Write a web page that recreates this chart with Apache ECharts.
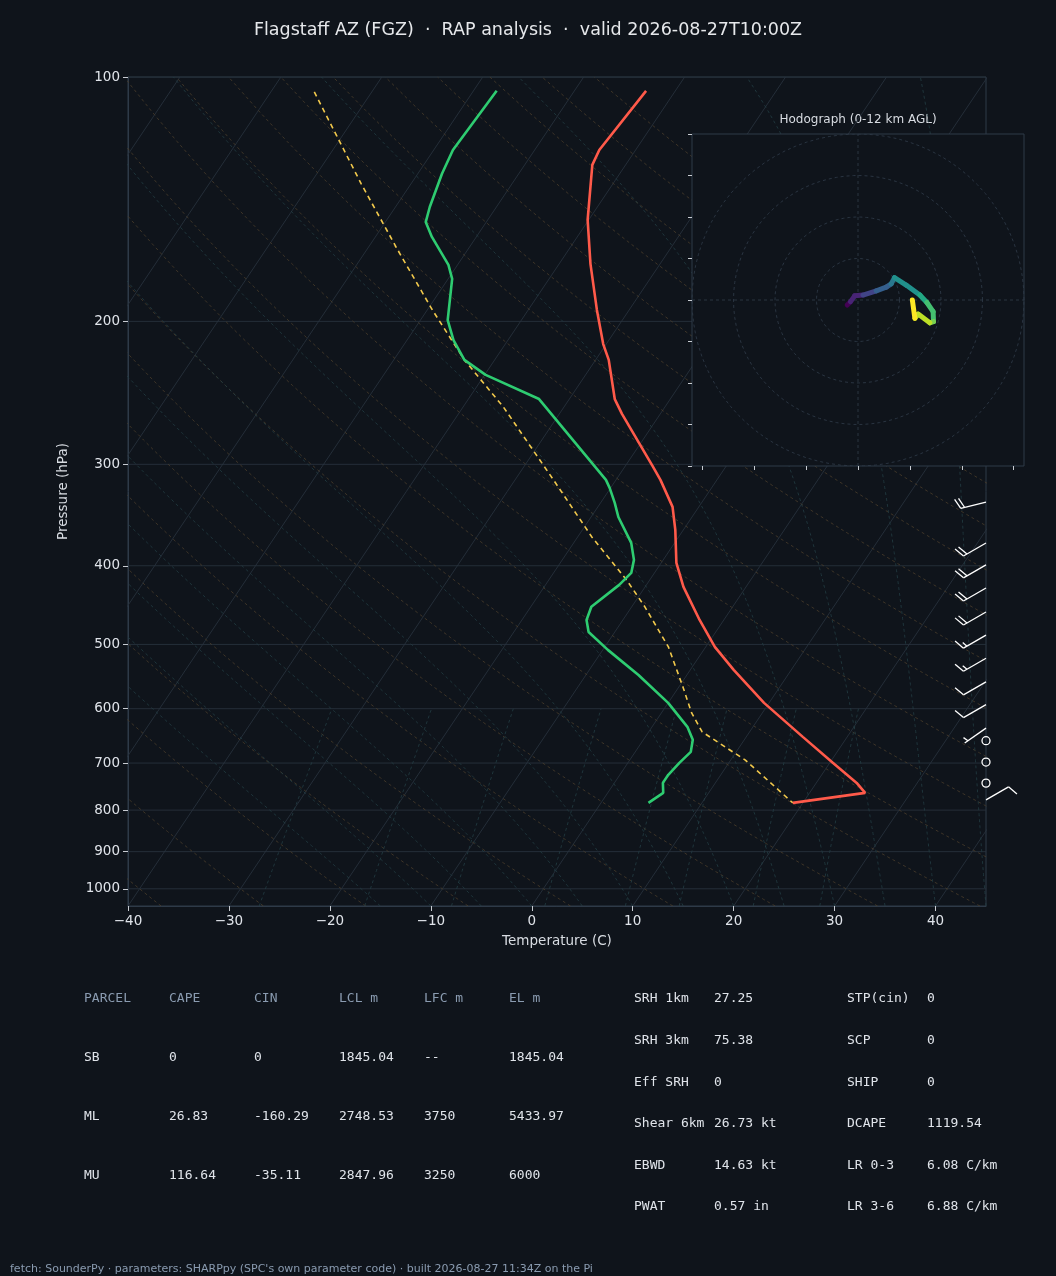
<!DOCTYPE html>
<html>
<head>
<meta charset="utf-8">
<script src="https://cdn.jsdelivr.net/npm/echarts@6/dist/echarts.min.js"></script>
<style>
  html, body { margin: 0; padding: 0; background: #0f141b; }
  #skewt { width: 1056px; height: 1276px; }
</style>
</head>
<body>
<div id="skewt"></div>
<script>
// sounding (pressure hPa, temperature C)
const tempPres = [104.0, 123.0, 128.3, 150.0, 169.9, 193.6, 213.3, 223.1, 249.3, 260.0, 302.1, 313.5, 338.5, 361.3, 396.7, 424.7, 466.5, 503.5, 537.5, 590.2, 649.9, 699.6, 740.5, 761.8, 783.7];
const tempVals = [-42.9, -43.6, -43.3, -40.1, -36.9, -33.2, -30.3, -28.7, -25.5, -23.8, -17.2, -15.6, -12.6, -10.8, -8.5, -6.2, -2.4, 0.9, 4.3, 9.5, 15.6, 20.3, 24.0, 25.5, 19.0];

const dewPres = [104.0, 123.0, 131.6, 144.6, 150.9, 157.4, 170.4, 177.3, 199.3, 210.9, 223.1, 232.8, 249.3, 313.5, 320.7, 334.6, 348.3, 374.9, 393.4, 408.2, 422.3, 449.4, 466.5, 482.6, 507.8, 545.2, 590.2, 631.7, 655.4, 678.1, 699.6, 723.8, 740.5, 761.8, 783.7];
const dewVals = [-57.7, -58.1, -57.6, -56.6, -56.0, -54.4, -50.9, -49.6, -47.3, -45.4, -43.0, -39.9, -33.0, -21.0, -20.1, -18.6, -17.3, -14.3, -12.9, -12.3, -12.7, -14.0, -13.6, -12.6, -9.5, -4.8, 0.0, 3.5, 4.9, 5.5, 5.1, 4.8, 4.8, 5.5, 4.7];

const parcelPres = [104.3, 113.0, 135.5, 163.4, 193.6, 223.1, 255.0, 313.5, 368.6, 416.4, 449.4, 503.5, 564.0, 607.3, 640.8, 693.6, 783.7];
const parcelVals = [-75.7, -72.4, -64.9, -56.9, -49.5, -43.0, -36.0, -26.2, -18.6, -12.3, -8.7, -3.7, 0.4, 3.0, 5.3, 11.4, 19.0];

// wind barbs
const barbPres = [334, 375, 399, 426, 456, 487, 520, 556, 593, 634, 657, 698, 741, 777];
const barbDir = [256, 240, 240, 240, 240, 240, 240, 240, 240, 235, 0, 0, 0, 60];
const barbSpd = [20, 20, 20, 20, 20, 15, 15, 10, 10, 5, 0, 0, 0, 10];

// hodograph (u, v in kt)
const hodoU = [-2.6, -1.8, -0.8, 1.2, 4.4, 6.8, 8.0, 8.8, 11.6, 14.9, 16.6, 18.1, 18.2, 17.3, 14.5, 13.7, 13.1];
const hodoV = [-1.2, -0.4, 1.0, 1.2, 2.2, 3.1, 3.9, 5.4, 3.6, 1.2, -0.6, -2.8, -5.2, -5.5, -3.4, -4.4, 0.0];

const presTicks = [100, 200, 300, 400, 500, 600, 700, 800, 900, 1000];

// tables
const parcelHead = ['PARCEL', 'CAPE', 'CIN', 'LCL m', 'LFC m', 'EL m'];
const parcelRows = [
  ['SB', '0', '0', '1845.04', '--', '1845.04'],
  ['ML', '26.83', '-160.29', '2748.53', '3750', '5433.97'],
  ['MU', '116.64', '-35.11', '2847.96', '3250', '6000']
];
const kinLabels = ['SRH 1km', 'SRH 3km', 'Eff SRH', 'Shear 6km', 'EBWD', 'PWAT'];
const kinValues = ['27.25', '75.38', '0', '26.73 kt', '14.63 kt', '0.57 in'];
const idxLabels = ['STP(cin)', 'SCP', 'SHIP', 'DCAPE', 'LR 0-3', 'LR 3-6'];
const idxValues = ['0', '0', '0', '1119.54', '6.08 C/km', '6.88 C/km'];

const SKEW = 54, PREF = 1050;
const skewX = (t, p) => t + SKEW * Math.log10(PREF / p);
const toXY = (pres, vals) => pres.map((p, i) => [skewX(vals[i], p), p]);

const chart = echarts.init(document.getElementById('skewt'));
const series = [];
const bgLine = (data, color, dashed, w) => series.push({
  type: 'line', data, showSymbol: false, silent: true, xAxisIndex: 0, yAxisIndex: 0,
  lineStyle: { color, width: w || 0.8, type: dashed ? [3, 3] : 'solid' }, z: 1
});

// pressure levels for background curves
const levels = [];
for (let p = 1050; p >= 100; p -= 10) levels.push(p);

// isotherms
for (let t = -130; t <= 50; t += 10) bgLine([[skewX(t, 1050), 1050], [skewX(t, 100), 100]], '#27313c', false, 0.9);
// isobars
presTicks.forEach(p => bgLine([[-40, p], [45, p]], '#27313c', false, 0.9));
// dry adiabats
for (let t0 = -40; t0 <= 160; t0 += 10) {
  const th = t0 + 273.15;
  bgLine(levels.map(p => [skewX(th * Math.pow(p / 1000, 0.286) - 273.15, p), p]), '#4a3d2c', true);
}
// moist adiabats
const satMix = (t, p) => { const es = 6.112 * Math.exp(17.67 * t / (t + 243.5)); return 0.622 * es / (p - es); };
for (let t0 = -15; t0 <= 45; t0 += 5) {
  let t = t0, pts = [];
  for (let p = 1050; p >= 100; p -= 5) {
    pts.push([skewX(t, p), p]);
    const T = t + 273.15, rs = satMix(t, p);
    const dTdp = (287 * T + 2.5e6 * rs) / (p * (1005 + 2.5e6 * 2.5e6 * rs * 0.622 / (287 * T * T)));
    t -= dTdp * 5;
  }
  bgLine(pts, '#233e44', true);
}
// mixing ratio lines (g/kg)
[0.4, 1, 2, 4, 7, 10, 16, 24].forEach(w => {
  const pts = [];
  for (let p = 1050; p >= 600; p -= 25) {
    const e = p * (w / 1000) / (0.622 + w / 1000);
    const l = Math.log(e / 6.112);
    pts.push([skewX(243.5 * l / (17.67 - l), p), p]);
  }
  bgLine(pts, '#233e44', true);
});

series.push(
  { type: 'line', name: 'Parcel', data: toXY(parcelPres, parcelVals), showSymbol: false, z: 4,
    lineStyle: { color: '#f2c94c', width: 1.6, type: [5, 4] } },
  { type: 'line', name: 'Dewpoint', data: toXY(dewPres, dewVals), showSymbol: false, z: 5,
    lineStyle: { color: '#2ecc71', width: 2.6 } },
  { type: 'line', name: 'Temperature', data: toXY(tempPres, tempVals), showSymbol: false, z: 5,
    lineStyle: { color: '#ff5a4a', width: 2.6 } }
);

// wind barbs
series.push({
  type: 'custom', clip: false, z: 6,
  data: barbPres.map((p, i) => [p, barbDir[i], barbSpd[i]]),
  renderItem: (params, api) => {
    const p = api.value(0), d = api.value(1) * Math.PI / 180, spd = api.value(2);
    const b = api.coord([45, p]);
    const st = { stroke: '#ffffff', lineWidth: 1.3, fill: 'none' };
    if (spd < 2.5) return { type: 'circle', shape: { cx: b[0], cy: b[1], r: 4 }, style: st };
    const s = [Math.sin(d), -Math.cos(d)];
    const a = 70 * Math.PI / 180;
    const f = [s[0] * Math.cos(a) - s[1] * Math.sin(a), s[0] * Math.sin(a) + s[1] * Math.cos(a)];
    const L = 26;
    const kids = [{ type: 'line', shape: { x1: b[0], y1: b[1], x2: b[0] + L * s[0], y2: b[1] + L * s[1] }, style: st }];
    let full = Math.floor(spd / 10), half = Math.round((spd % 10) / 5);
    let pos = L;
    if (full === 0) pos -= 4;
    const add = len => {
      const x = b[0] + pos * s[0], y = b[1] + pos * s[1];
      kids.push({ type: 'line', shape: { x1: x, y1: y, x2: x + len * f[0], y2: y + len * f[1] }, style: st });
      pos -= 4;
    };
    for (let i = 0; i < full; i++) add(11);
    if (half) add(5.5);
    return { type: 'group', children: kids };
  }
});

// hodograph rings and cross
const ring = r => { const pts = []; for (let k = 0; k <= 90; k++) { const t = k / 90 * 2 * Math.PI; pts.push([r * Math.cos(t), r * Math.sin(t)]); } return pts; };
const hodoBg = (data) => series.push({ type: 'line', data, showSymbol: false, silent: true, xAxisIndex: 1, yAxisIndex: 1, z: 12,
  lineStyle: { color: '#2c3845', width: 0.9, type: [3, 3] } });
[10, 20, 30, 40].forEach(r => hodoBg(ring(r)));
hodoBg([[-40, 0], [40, 0]]);
hodoBg([[0, -40], [0, 40]]);

// hodograph trace, coloured along height with viridis
const viridis = ['#440154', '#482475', '#414487', '#355f8d', '#2a788e', '#21918c', '#22a884', '#44bf70', '#7ad151', '#bddf26', '#fde725'];
const segs = [];
for (let i = 0; i < hodoU.length - 1; i++) {
  const c = viridis[Math.round(i / (hodoU.length - 2) * (viridis.length - 1))];
  segs.push({ coords: [[hodoU[i], hodoV[i]], [hodoU[i + 1], hodoV[i + 1]]], lineStyle: { color: c } });
}
series.push({ type: 'lines', coordinateSystem: 'cartesian2d', xAxisIndex: 1, yAxisIndex: 1, z: 14,
  lineStyle: { width: 5, opacity: 1, cap: 'round' }, data: segs });

const txt = (x, y, text, color, extra) => Object.assign({
  type: 'text', x, y, silent: true,
  style: Object.assign({ text, fill: color, font: '13px "DejaVu Sans Mono"', verticalAlign: 'middle' }, extra || {})
});
const graphics = [
  { type: 'rect', shape: { x: 692, y: 134, width: 332, height: 332 }, z: 10,
    style: { fill: '#0f141b', stroke: '#2e3a48', lineWidth: 1 } },
  txt(858, 120, 'Hodograph (0-12 km AGL)', '#d8dce2', { font: '12px "DejaVu Sans"', align: 'center' }),
  txt(10, 1269, "fetch: SounderPy \u00b7 parameters: SHARPpy (SPC's own parameter code) \u00b7 built 2026-08-27 11:34Z on the Pi", '#8a9bb0', { font: '11px "DejaVu Sans"' })
];
const colX = [84, 169, 254, 339, 424, 509];
parcelHead.forEach((h, j) => graphics.push(txt(colX[j], 999, h, '#8a9bb0')));
parcelRows.forEach((row, i) => row.forEach((v, j) => graphics.push(txt(colX[j], 1058 + i * 59, v, '#e0e4ea'))));
kinLabels.forEach((l, i) => {
  const y = 999 + i * 41.6;
  graphics.push(txt(634, y, l, '#e0e4ea'), txt(714, y, kinValues[i], '#e0e4ea'),
    txt(847, y, idxLabels[i], '#e0e4ea'), txt(927, y, idxValues[i], '#e0e4ea'));
});

const minus = v => (v < 0 ? '\u2212' + (-v) : String(v));
const option = {
  backgroundColor: '#0f141b',
  animation: false,
  title: {
    text: 'Flagstaff AZ (FGZ)  \u00b7  RAP analysis  \u00b7  valid 2026-08-27T10:00Z',
    left: 'center', top: 16,
    textStyle: { color: '#e6e8eb', fontSize: 17.5, fontWeight: 'normal', fontFamily: 'DejaVu Sans' }
  },
  grid: [
    { left: 128, right: 70, top: 77, bottom: 370, show: true, borderColor: '#2e3a48', borderWidth: 1, backgroundColor: 'transparent' },
    { left: 692, top: 134, width: 332, height: 332 }
  ],
  xAxis: [
    { type: 'value', gridIndex: 0, min: -40, max: 45, interval: 10,
      name: 'Temperature (C)', nameLocation: 'middle', nameGap: 28,
      nameTextStyle: { color: '#d8dce2', fontSize: 13.5, fontFamily: 'DejaVu Sans' },
      axisLine: { onZero: false, lineStyle: { color: '#2e3a48' } },
      axisTick: { show: true, length: 5, lineStyle: { color: '#c8ccd2' } },
      axisLabel: { color: '#e0e4ea', fontSize: 13.5, fontFamily: 'DejaVu Sans', formatter: minus, showMaxLabel: false },
      splitLine: { show: false } },
    { type: 'value', gridIndex: 1, min: -40, max: 40, z: 20,
      axisLine: { show: false, onZero: false },
      axisTick: { show: true, length: 4, lineStyle: { color: '#c8ccd2' }, customValues: [-37.5, -25, -12.5, 0, 12.5, 25, 37.5] },
      axisLabel: { show: false, customValues: [] }, splitLine: { show: false } }
  ],
  yAxis: [
    { type: 'log', gridIndex: 0, min: 100, max: 1050, inverse: true, logBase: 10,
      name: 'Pressure (hPa)', nameLocation: 'middle', nameGap: 58,
      nameTextStyle: { color: '#d8dce2', fontSize: 13.5, fontFamily: 'DejaVu Sans' },
      axisLine: { onZero: false, lineStyle: { color: '#2e3a48' } },
      axisTick: { show: true, length: 5, lineStyle: { color: '#c8ccd2' }, customValues: presTicks },
      axisLabel: { color: '#e0e4ea', fontSize: 13.5, fontFamily: 'DejaVu Sans', customValues: presTicks, formatter: v => String(v) },
      splitLine: { show: false } },
    { type: 'value', gridIndex: 1, min: -40, max: 40, z: 20,
      axisLine: { show: false, onZero: false },
      axisTick: { show: true, length: 4, lineStyle: { color: '#c8ccd2' }, customValues: [-40, -30, -20, -10, 0, 10, 20, 30, 40] },
      axisLabel: { show: false, customValues: [] }, splitLine: { show: false } }
  ],
  series,
  graphic: graphics
};
chart.setOption(option);
</script>
</body>
</html>
